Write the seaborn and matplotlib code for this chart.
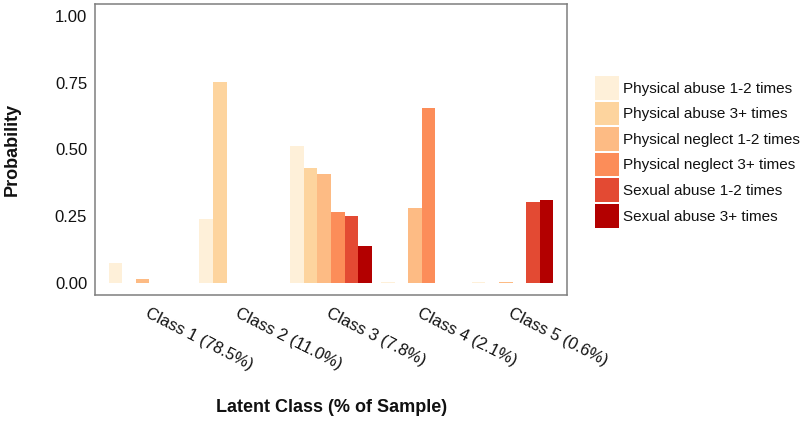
import pandas as pd
import matplotlib
matplotlib.use("Agg")
import matplotlib.pyplot as plt
import seaborn as sns
from matplotlib.patches import Patch

# values
classes = ["Class 1 (78.5%)", "Class 2 (11.0%)", "Class 3 (7.8%)",
           "Class 4 (2.1%)", "Class 5 (0.6%)"]
items = ["Physical abuse 1-2 times", "Physical abuse 3+ times",
         "Physical neglect 1-2 times", "Physical neglect 3+ times",
         "Sexual abuse 1-2 times", "Sexual abuse 3+ times"]
phys_abuse_12 = [0.073, 0.238, 0.512, 0.003, 0.004]
phys_abuse_3 = [0.000, 0.753, 0.430, 0.000, 0.000]
phys_neglect_12 = [0.014, 0.000, 0.410, 0.281, 0.003]
phys_neglect_3 = [0.001, 0.001, 0.265, 0.654, 0.000]
sex_abuse_12 = [0.000, 0.001, 0.251, 0.000, 0.304]
sex_abuse_3 = [0.000, 0.000, 0.138, 0.000, 0.312]
colors = ["#fef0d9", "#fdd49e", "#fdbb84", "#fc8d59", "#e34a33", "#b30000"]

series = [phys_abuse_12, phys_abuse_3, phys_neglect_12,
          phys_neglect_3, sex_abuse_12, sex_abuse_3]
rows = []
for item, vals in zip(items, series):
    for cls, v in zip(classes, vals):
        rows.append({"cls": cls, "item": item, "prob": v})
df = pd.DataFrame(rows)

sns.set_style("white")
plt.rcParams["font.family"] = ["Liberation Sans", "DejaVu Sans"]

fig = plt.figure(figsize=(8, 4.22), dpi=100)
ax = fig.add_axes([0.11875, 0.301, 0.59, 0.6895])

sns.barplot(data=df, x="cls", y="prob", hue="item", order=classes,
            hue_order=items, palette=colors, width=0.9, gap=0,
            linewidth=0, saturation=1, legend=False, ax=ax)

ax.set_xlim(-0.6, 4.6)
ax.set_ylim(-0.045, 1.045)
ax.set_yticks([0, 0.25, 0.5, 0.75, 1.0])
ax.set_yticklabels(["0.00", "0.25", "0.50", "0.75", "1.00"], fontsize=12)
ax.set_xticks(range(len(classes)))
ax.set_xticklabels(classes, fontsize=12, rotation=-27, ha="left",
                   va="top", rotation_mode="anchor")
ax.tick_params(axis="both", direction="out", length=3.6, width=0.8,
               color="#333333", labelcolor="#111111", pad=2)
ax.tick_params(axis="x", pad=4)
ax.set_xlabel("")
ax.set_ylabel("")
for s in ax.spines.values():
    s.set_visible(True)
    s.set_color("#7f7f7f")
    s.set_linewidth(1.1)

fig.text(0.015, 0.645, "Probability", rotation=90, ha="center", va="center",
         fontsize=13, fontweight="bold", color="#111111")
fig.text(0.414, 0.035, "Latent Class (% of Sample)", ha="center",
         va="center", fontsize=13, fontweight="bold", color="#111111")

handles = [Patch(facecolor=c, edgecolor="none") for c in colors]
fig.legend(handles, items, loc="upper left", bbox_to_anchor=(0.744, 0.82),
           frameon=False, fontsize=11, handlelength=1.57, handleheight=2.0,
           labelspacing=0.13, handletextpad=0.25, borderaxespad=0,
           borderpad=0, labelcolor="#111111")

fig.savefig("out.png", dpi=100)
